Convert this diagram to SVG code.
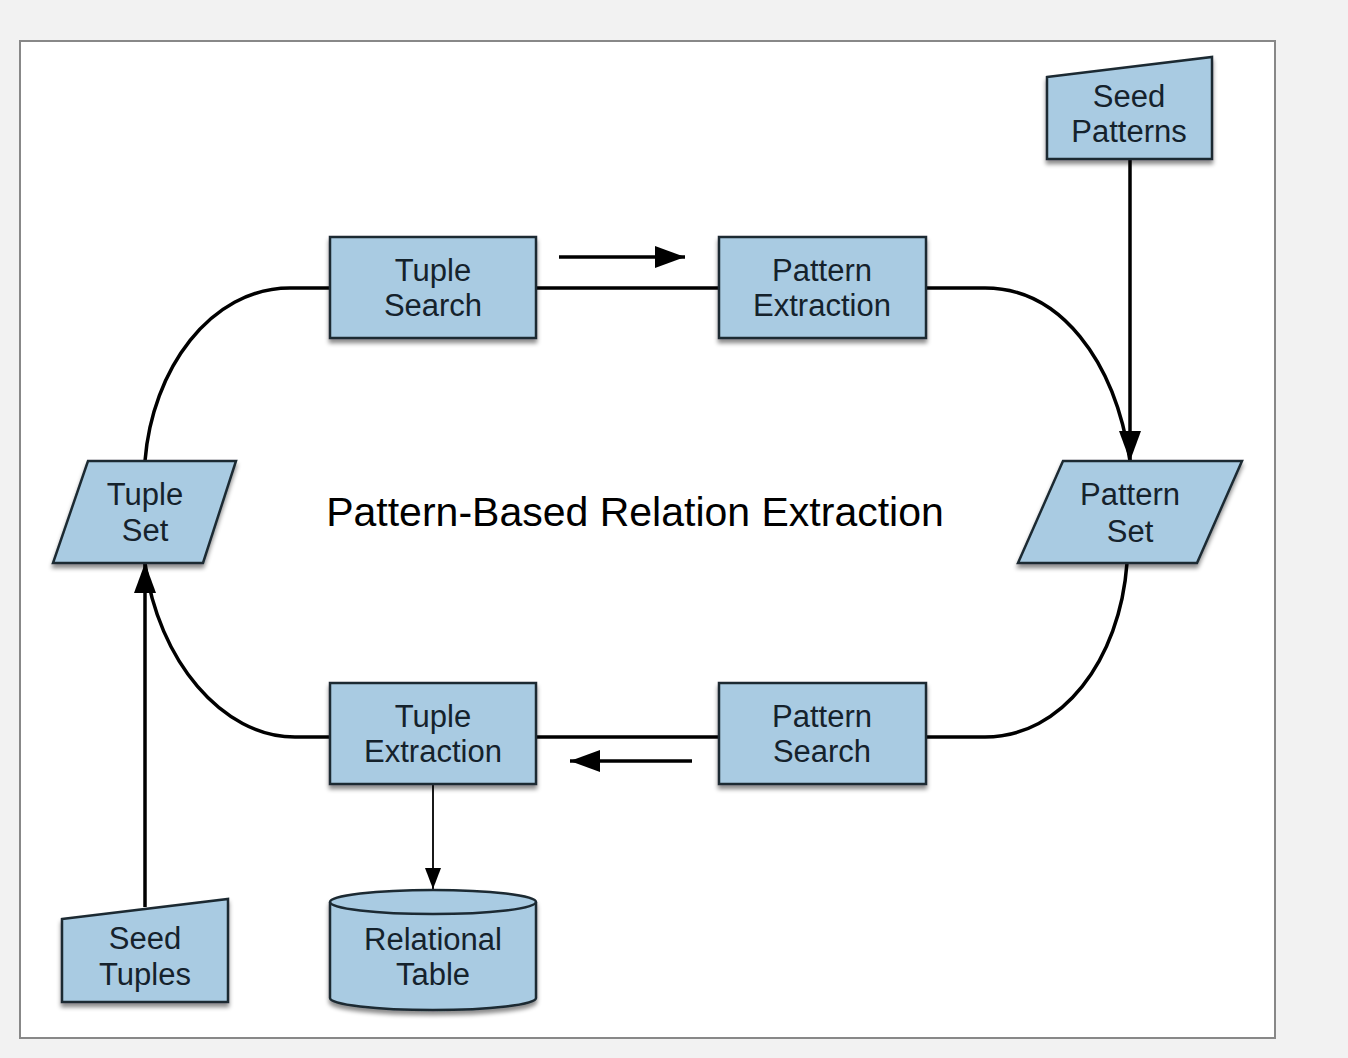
<svg xmlns="http://www.w3.org/2000/svg" width="1348" height="1058" viewBox="0 0 1348 1058">
<defs>
<filter id="sh" x="-10%" y="-10%" width="120%" height="130%">
<feDropShadow dx="0" dy="4" stdDeviation="2" flood-color="#000" flood-opacity="0.45"/>
</filter>
<marker id="ah" markerUnits="userSpaceOnUse" markerWidth="32" markerHeight="22" refX="30" refY="11" orient="auto">
<path d="M0,0 L30,11 L0,22 Z" fill="#000"/>
</marker>
<marker id="ahs" markerUnits="userSpaceOnUse" markerWidth="22" markerHeight="16" refX="21" refY="8" orient="auto">
<path d="M0,0 L21,8 L0,16 Z" fill="#000"/>
</marker>
</defs>
<style>
.n{fill:#a9cbe2;stroke:#1c2a33;stroke-width:2.5;filter:url(#sh)}
.t{font-family:"Liberation Sans",Arial,sans-serif;font-size:31px;fill:#15222c;text-anchor:middle}
.c{fill:none;stroke:#000;stroke-width:3.5}
.title{font-family:"Liberation Sans",Arial,sans-serif;font-size:41px;fill:#000;text-anchor:middle}
</style>
<rect x="0" y="0" width="1348" height="1058" fill="#f2f2f2"/>
<rect x="20" y="41" width="1255" height="997" fill="#fff" stroke="#888" stroke-width="2"/>

<g id="connectors">
<path class="c" d="M330,288 L290,288 C210,288 152,370 145,461"/>
<path class="c" d="M536,288 L719,288"/>
<path class="c" d="M926,288 L985,288 C1060,288 1115,360 1130,461"/>
<path class="c" d="M1127,563 C1120,660 1062,737 985,737 L926,737"/>
<path class="c" d="M719,737 L536,737"/>
<path class="c" d="M330,737 L295,737 C222,737 158,660 145,563"/>
<path class="c" d="M1130,158 L1130,461" marker-end="url(#ah)"/>
<path class="c" d="M145,907 L145,563" marker-end="url(#ah)"/>
<path class="c" d="M559,257 L685,257" marker-end="url(#ah)"/>
<path class="c" d="M692,761 L570,761" marker-end="url(#ah)"/>
<path fill="none" stroke="#000" stroke-width="1.8" d="M433,784 L433,889" marker-end="url(#ahs)"/>
</g>

<text class="title" x="635" y="526">Pattern-Based Relation Extraction</text>

<g id="tuple-search">
<rect class="n" x="330" y="237" width="206" height="101"/>
<text class="t" x="433" y="281">Tuple</text>
<text class="t" x="433" y="316">Search</text>
</g>
<g id="pattern-extraction">
<rect class="n" x="719" y="237" width="207" height="101"/>
<text class="t" x="822" y="281">Pattern</text>
<text class="t" x="822" y="316">Extraction</text>
</g>
<g id="tuple-extraction">
<rect class="n" x="330" y="683" width="206" height="101"/>
<text class="t" x="433" y="727">Tuple</text>
<text class="t" x="433" y="762">Extraction</text>
</g>
<g id="pattern-search">
<rect class="n" x="719" y="683" width="207" height="101"/>
<text class="t" x="822" y="727">Pattern</text>
<text class="t" x="822" y="762">Search</text>
</g>
<g id="seed-patterns">
<polygon class="n" points="1047,77 1212,57 1212,159 1047,159"/>
<text class="t" x="1129" y="107">Seed</text>
<text class="t" x="1129" y="142">Patterns</text>
</g>
<g id="pattern-set">
<polygon class="n" points="1063,461 1242,461 1197,563 1018,563"/>
<text class="t" x="1130" y="505">Pattern</text>
<text class="t" x="1130" y="542">Set</text>
</g>
<g id="tuple-set">
<polygon class="n" points="88,461 236,461 203,563 53,563"/>
<text class="t" x="145" y="505">Tuple</text>
<text class="t" x="145" y="541">Set</text>
</g>
<g id="seed-tuples">
<polygon class="n" points="62,919 228,899 228,1002 62,1002"/>
<text class="t" x="145" y="949">Seed</text>
<text class="t" x="145" y="985">Tuples</text>
</g>
<g id="relational-table">
<path class="n" d="M330,902 A103,12 0 0,1 536,902 L536,998 A103,12 0 0,1 330,998 Z"/>
<path fill="none" stroke="#1c2a33" stroke-width="2.5" d="M330,902 A103,12 0 0,0 536,902"/>
<text class="t" x="433" y="950">Relational</text>
<text class="t" x="433" y="985">Table</text>
</g>
</svg>
